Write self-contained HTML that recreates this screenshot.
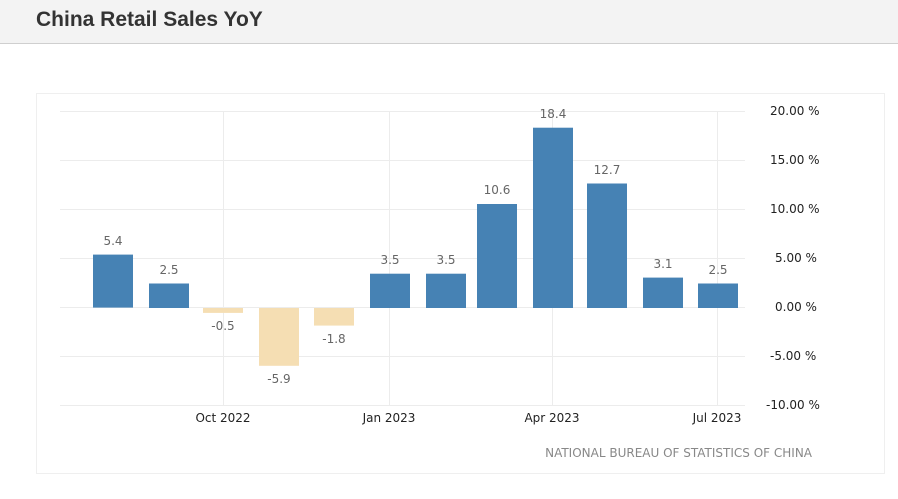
<!DOCTYPE html>
<html><head><style>
body{margin:0;width:898px;height:499px;background:#fff;overflow:hidden;font-family:"Liberation Sans",sans-serif}
.t{position:absolute;left:0;top:0;width:898px;height:43px;background:#f3f3f3;border-bottom:1px solid #cfcfcf}
.t span{position:absolute;left:36px;top:8px;font-size:21px;font-weight:bold;color:#333}
</style></head><body>
<div class="t"><span>China Retail Sales YoY</span></div>
<svg style="position:absolute;left:0;top:0" width="898" height="499" font-family="DejaVu Sans, Liberation Sans, sans-serif">
<rect x="36.5" y="93.5" width="848" height="380" fill="none" stroke="#efefef"/>
<g stroke="#ececec" stroke-width="1">
<line x1="60" x2="745" y1="111.5" y2="111.5"/><line x1="60" x2="745" y1="160.5" y2="160.5"/>
<line x1="60" x2="745" y1="209.5" y2="209.5"/><line x1="60" x2="745" y1="258.5" y2="258.5"/>
<line x1="60" x2="745" y1="307.5" y2="307.5"/><line x1="60" x2="745" y1="356.5" y2="356.5"/>
<line x1="60" x2="745" y1="405.5" y2="405.5"/>
<line x1="223.5" x2="223.5" y1="111" y2="405"/><line x1="389.5" x2="389.5" y1="111" y2="405"/>
<line x1="552.5" x2="552.5" y1="111" y2="405"/><line x1="717.5" x2="717.5" y1="111" y2="405"/>
</g>
<g fill="#4682b4">
<rect x="93" y="254.6" width="40" height="53"/>
<rect x="149" y="283.5" width="40" height="24.5"/>
<rect x="370" y="273.7" width="40" height="34.3"/>
<rect x="426" y="273.7" width="40" height="34.3"/>
<rect x="477" y="204" width="40" height="104"/>
<rect x="533" y="127.7" width="40" height="180.3"/>
<rect x="587" y="183.5" width="40" height="124.5"/>
<rect x="643" y="277.6" width="40" height="30.4"/>
<rect x="698" y="283.5" width="40" height="24.5"/>
</g>
<g fill="#f5deb3">
<rect x="203" y="308" width="40" height="4.9"/>
<rect x="259" y="308" width="40" height="57.8"/>
<rect x="314" y="308" width="40" height="17.6"/>
</g>
<g fill="#666" font-size="12" text-anchor="middle">
<text x="113" y="245">5.4</text><text x="169" y="274">2.5</text>
<text x="223" y="330">-0.5</text><text x="279" y="383">-5.9</text><text x="334" y="343">-1.8</text>
<text x="390" y="264">3.5</text><text x="446" y="264">3.5</text><text x="497" y="194">10.6</text>
<text x="553" y="118">18.4</text><text x="607" y="174">12.7</text><text x="663" y="268">3.1</text><text x="718" y="274">2.5</text>
</g>
<g fill="#222" font-size="12">
<text x="770" y="115">20.00 %</text><text x="770" y="164">15.00 %</text><text x="770" y="213">10.00 %</text>
<text x="775" y="262">5.00 %</text><text x="775" y="311">0.00 %</text><text x="770" y="360">-5.00 %</text><text x="766" y="409">-10.00 %</text>
</g>
<g fill="#222" font-size="12" text-anchor="middle">
<text x="223" y="422">Oct 2022</text><text x="389" y="422">Jan 2023</text><text x="552" y="422">Apr 2023</text><text x="717" y="422">Jul 2023</text>
</g>
<text x="812" y="457" fill="#888" font-size="12" text-anchor="end">NATIONAL BUREAU OF STATISTICS OF CHINA</text>
</svg>
</body></html>
